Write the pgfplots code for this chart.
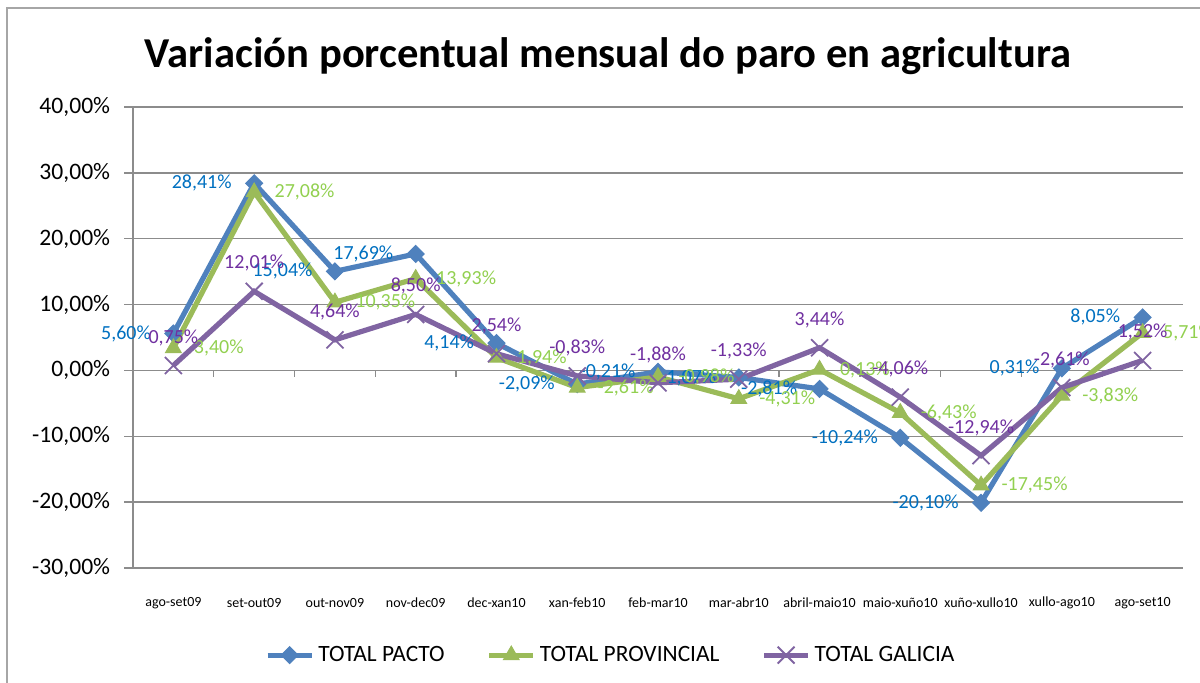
\documentclass[border=0pt]{standalone}
\usepackage{fontspec}
\setmainfont{Carlito}
\usepackage{pgfplots}
\pgfplotsset{compat=1.18}

\definecolor{pactoline}{HTML}{4F81BD}
\definecolor{provline}{HTML}{9BBB59}
\definecolor{galline}{HTML}{8064A2}
\definecolor{pactolab}{HTML}{0070C0}
\definecolor{provlab}{HTML}{92D050}
\definecolor{gallab}{HTML}{7030A0}
\definecolor{gridgray}{HTML}{8C8C8C}

\newcommand{\pct}{\pgfmathprintnumber[fixed,fixed zerofill,precision=2,use comma]{\pgfplotspointmeta}\%}

\begin{document}
\begin{tikzpicture}
\useasboundingbox (0,0) rectangle (600pt,341.5pt);
% chart frame
\draw[gray!70, line width=0.9pt] (3.5pt,-2pt) -- (3.5pt,337.5pt) -- (602pt,337.5pt);
\node[font=\fontsize{21.3}{25}\selectfont\bfseries, anchor=base] at (304pt,307.5pt)
  {Variación porcentual mensual do paro en agricultura};

\begin{axis}[
  at={(66.5pt,57.5pt)}, anchor=south west,
  scale only axis, width=525pt, height=230.5pt,
  clip=false,
  xmin=0.5, xmax=13.5, ymin=-30, ymax=40,
  axis y line*=left, axis x line*=bottom,
  x axis line style={draw=none},
  y axis line style={draw=gridgray, line width=0.7pt},
  ytick={-30,-20,...,40},
  yticklabels={{-30,00\%},{-20,00\%},{-10,00\%},{0,00\%},{10,00\%},{20,00\%},{30,00\%},{40,00\%}},
  ytick align=outside,
  ytick style={draw=gridgray, line width=0.7pt},
  y tick label style={font=\fontsize{11.8}{13}\selectfont, anchor=east, inner sep=0pt, xshift=-7pt},
  ymajorgrids, grid style={draw=gridgray, line width=0.7pt},
  xtick={1,...,13},
  xticklabels={ago-set09,set-out09,out-nov09,nov-dec09,dec-xan10,xan-feb10,feb-mar10,mar-abr10,abril-maio10,maio-xuño10,xuño-xullo10,xullo-ago10,ago-set10},
  x tick label style={font=\fontsize{7}{8}\selectfont, anchor=center, inner sep=0pt, yshift=-17.5pt},
  major x tick style={draw=none},
  /pgf/number format/assume math mode=true,
  legend columns=3,
  legend style={at={(axis description cs:0.456,-0.189)}, anchor=center, draw=none,
    font=\fontsize{11.7}{13}\selectfont,
    /tikz/every even column/.append style={column sep=19pt}},
  legend image code/.code={\draw[mark repeat=2,mark phase=2] plot coordinates {(0pt,0pt)(11pt,0pt)(22pt,0pt)};},
]
% x axis ticks on the 0 line
\pgfplotsinvokeforeach{1.5,2.5,3.5,4.5,5.5,6.5,7.5,8.5,9.5,10.5,11.5,12.5}{
  \draw[gridgray, line width=0.7pt] (axis cs:#1,0) -- ++(0pt,-3.5pt);
}

\addplot[pactoline, line width=2.6pt, mark=square*, mark size=3pt,
  mark options={rotate=45, line width=0.5pt, fill=pactoline},
  nodes near coords=\pct,
  nodes near coords style={anchor=east, xshift=-11pt, inner sep=0pt, text=pactolab,
    font=\fontsize{10}{12}\selectfont}]
  coordinates {
  (1,5.60)(2,28.41)(3,15.04)(4,17.69)(5,4.14)(6,-2.09)(7,-0.21)
  (8,-1.07)(9,-2.81)(10,-10.24)(11,-20.10)(12,0.31)(13,8.05)
};
\addlegendentry{TOTAL PACTO}

\addplot[provline, line width=2.6pt, mark=triangle*, mark size=4.5pt,
  mark options={line width=0.5pt, fill=provline},
  nodes near coords=\pct,
  nodes near coords style={anchor=west, xshift=10pt, inner sep=0pt, text=provlab,
    font=\fontsize{10}{12}\selectfont}]
  coordinates {
  (1,3.40)(2,27.08)(3,10.35)(4,13.93)(5,1.94)(6,-2.61)(7,-0.98)
  (8,-4.31)(9,0.13)(10,-6.43)(11,-17.45)(12,-3.83)(13,5.71)
};
\addlegendentry{TOTAL PROVINCIAL}

\addplot[galline, line width=2.6pt, mark=x, mark size=6pt,
  mark options={line width=0.9pt},
  nodes near coords=\pct,
  nodes near coords style={anchor=center, yshift=14pt, inner sep=0pt, text=gallab,
    font=\fontsize{10}{12}\selectfont}]
  coordinates {
  (1,0.75)(2,12.01)(3,4.64)(4,8.50)(5,2.54)(6,-0.83)(7,-1.88)
  (8,-1.33)(9,3.44)(10,-4.06)(11,-12.94)(12,-2.61)(13,1.52)
};
\addlegendentry{TOTAL GALICIA}
\end{axis}
\end{tikzpicture}
\end{document}
